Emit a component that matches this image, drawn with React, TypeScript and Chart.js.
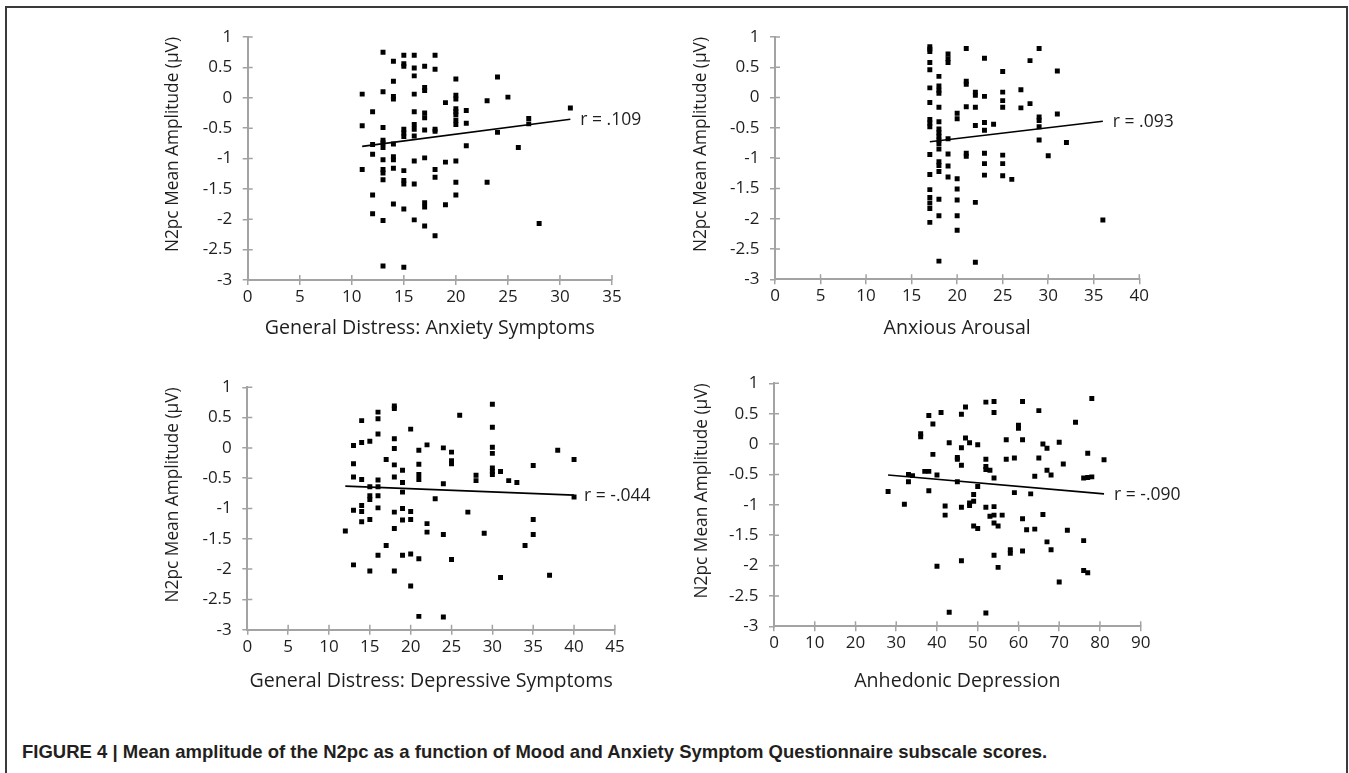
import React, { useEffect, useRef } from "react";
import { Chart, registerables } from "chart.js";

Chart.register(...registerables);

const FONT_FAMILY = "'Open Sans', 'DejaVu Sans', sans-serif";
const AXIS_COLOR = "#a3a3a3";
const TEXT_COLOR = "#1e1e1e";

// ---------------- shared axis ticks ----------------
const yTicks = [1, 0.5, 0, -0.5, -1, -1.5, -2, -2.5, -3];
const xTicksAnxSym = [0, 5, 10, 15, 20, 25, 30, 35];
const xTicksArousal = [0, 5, 10, 15, 20, 25, 30, 35, 40];
const xTicksDepSym = [0, 5, 10, 15, 20, 25, 30, 35, 40, 45];
const xTicksAnhedonic = [0, 10, 20, 30, 40, 50, 60, 70, 80, 90];

const yTitle = "N2pc Mean Amplitude (\u00b5V)";
const xTitles = [
  "General Distress: Anxiety Symptoms",
  "Anxious Arousal",
  "General Distress: Depressive Symptoms",
  "Anhedonic Depression",
];
const rLabels = ["r = .109", "r = .093", "r = -.044", "r = -.090"];

// ---------------- panel 1: General Distress: Anxiety Symptoms ----------------
const anxSymX = [
  11, 11, 11,
  12, 12, 12, 12, 12,
  13, 13, 13, 13, 13, 13, 13, 13, 13, 13, 13, 13,
  14, 14, 14, 14, 14, 14, 14, 14, 14,
  15, 15, 15, 15, 15, 15, 15, 15, 15, 15, 15,
  16, 16, 16, 16, 16, 16, 16, 16, 16, 16, 16,
  17, 17, 17, 17, 17, 17, 17, 17, 17, 17,
  18, 18, 18, 18, 18, 18, 18,
  19, 19, 19,
  20, 20, 20, 20, 20, 20, 20, 20, 20, 20, 20,
  21, 21, 21,
  23, 23, 24, 24, 25, 26, 27, 27, 28, 31,
];
const anxSymY = [
  0.06, -0.46, -1.18,
  -0.23, -0.77, -0.93, -1.6, -1.91,
  0.75, 0.1, -0.49, -0.7, -0.74, -0.82, -1.02, -1.18, -1.24, -1.35, -2.02, -2.77,
  0.6, 0.27, 0.02, -0.02, -0.76, -0.97, -1.02, -1.16, -1.75,
  0.7, 0.56, 0.52, -0.52, -0.58, -0.64, -1.2, -1.36, -1.42, -1.83, -2.79,
  0.7, 0.49, 0.36, 0.06, -0.23, -0.44, -0.52, -0.63, -1.04, -1.42, -2.01,
  0.52, 0.17, 0.12, -0.25, -0.33, -0.53, -0.99, -1.73, -1.8, -2.11,
  0.7, 0.47, -0.52, -0.55, -1.18, -1.31, -2.27,
  -0.08, -1.06, -1.76,
  0.31, 0.04, -0.02, -0.18, -0.23, -0.28, -0.37, -0.44, -1.04, -1.39, -1.6,
  -0.21, -0.42, -0.79,
  -0.05, -1.39, 0.34, -0.57, 0.01, -0.82, -0.34, -0.43, -2.07, -0.17,
];
const anxSymTrendX = [11, 31];
const anxSymTrendY = [-0.8, -0.355];

// ---------------- panel 2: Anxious Arousal ----------------
const arousalX = [
  17, 17, 17, 17, 17, 17, 17, 17, 17, 17, 17, 17, 17, 17, 17, 17, 17,
  18, 18, 18, 18, 18, 18, 18, 18, 18, 18, 18, 18, 18, 18, 18, 18, 18, 18,
  19, 19, 19, 19, 19, 19, 19,
  20, 20, 20, 20, 20, 20, 20,
  21, 21, 21, 21, 21, 21,
  22, 22, 22, 22, 22, 22,
  23, 23, 23, 23, 23, 23, 23,
  24,
  25, 25, 25, 25, 25, 25, 25,
  26, 27, 27, 28, 28,
  29, 29, 29, 29, 29,
  30, 31, 31, 32, 36,
];
const arousalY = [
  0.84, 0.8, 0.76, 0.58, 0.46, 0.16, -0.08, -0.36, -0.42, -0.48, -0.94, -1.27, -1.52, -1.65, -1.74, -1.83, -2.06,
  0.35, 0.19, 0.12, 0.07, -0.16, -0.4, -0.52, -0.58, -0.64, -0.7, -0.76, -0.85, -1.06, -1.12, -1.22, -1.68, -1.95, -2.7,
  0.72, 0.64, 0.58, -0.68, -0.93, -1.13, -1.31,
  -0.26, -0.35, -1.34, -1.51, -1.69, -1.95, -2.19,
  0.81, 0.27, 0.22, -0.15, -0.92, -0.97,
  0.09, 0.04, -0.16, -0.46, -1.73, -2.72,
  0.65, 0.02, -0.41, -0.54, -0.92, -1.09, -1.28,
  -0.44,
  0.43, 0.09, -0.05, -0.16, -0.95, -1.09, -1.29,
  -1.35, 0.13, -0.17, 0.61, -0.1,
  0.81, -0.32, -0.38, -0.48, -0.7,
  -0.96, 0.44, -0.27, -0.74, -2.02,
];
const arousalTrendX = [17, 36];
const arousalTrendY = [-0.73, -0.39];

// ---------------- panel 3: General Distress: Depressive Symptoms ----------------
const depSymX = [
  12,
  13, 13, 13, 13, 13,
  14, 14, 14, 14, 14, 14,
  15, 15, 15, 15, 15, 15,
  16, 16, 16, 16, 16, 16, 16, 16,
  17, 17,
  18, 18, 18, 18, 18, 18, 18, 18, 18,
  19, 19, 19, 19, 19, 19,
  20, 20, 20, 20, 20,
  21, 21, 21, 21, 21, 21,
  22, 22, 22,
  23,
  24, 24, 24, 24,
  25, 25, 25, 25,
  26, 27, 28, 28, 29,
  30, 30, 30, 30, 30, 30, 30,
  31, 31, 32, 33, 34,
  35, 35, 35,
  37, 38, 40, 40,
];
const depSymY = [
  -1.37,
  0.04, -0.26, -0.48, -1.03, -1.93,
  0.45, 0.09, -0.52, -0.95, -1.05, -1.22,
  0.11, -0.64, -0.79, -0.85, -1.18, -2.03,
  0.59, 0.48, 0.23, -0.53, -0.64, -0.79, -0.99, -1.77,
  -0.19, -1.61,
  0.69, 0.65, 0.15, -0.01, -0.28, -0.48, -1.06, -1.33, -2.03,
  -0.37, -0.57, -0.73, -1.0, -1.19, -1.77,
  0.31, -1.05, -1.18, -1.75, -2.28,
  -0.04, -0.27, -0.44, -0.52, -1.83, -2.78,
  0.05, -1.25, -1.39,
  -0.84,
  0.0, -0.59, -1.43, -2.79,
  -0.07, -0.21, -0.26, -1.84,
  0.54, -1.06, -0.45, -0.54, -1.41,
  0.72, 0.34, 0.01, -0.09, -0.33, -0.39, -0.44,
  -0.39, -2.14, -0.54, -0.57, -1.61,
  -0.29, -1.18, -1.43,
  -2.1, -0.04, -0.19, -0.81,
];
const depSymTrendX = [12, 40];
const depSymTrendY = [-0.63, -0.78];

// ---------------- panel 4: Anhedonic Depression ----------------
const anhedonicX = [
  28, 32, 33, 33, 34, 36, 36, 37, 38, 38, 38, 39, 39, 40, 40, 41, 42, 42, 43, 43,
  45, 45, 45, 46, 46, 46, 46, 46, 47, 47, 48, 48, 48, 49, 49, 49, 50, 50, 50,
  52, 52, 52, 52, 52, 52, 53, 53, 54, 54, 54, 54, 54, 54, 54, 55, 55, 56, 57, 57,
  58, 58, 59, 59, 60, 60, 61, 61, 61, 61, 62, 63, 64, 64, 65, 65, 66, 66, 67, 67, 67,
  68, 68, 70, 70, 71, 72, 74, 76, 76, 76, 77, 77, 77, 78, 78, 81,
];
const anhedonicY = [
  -0.78, -0.99, -0.5, -0.62, -0.52, 0.17, 0.12, -0.45, -0.45, 0.47, -0.77, 0.33, -0.17, -0.51, -2.01, 0.52, -1.02, -1.17, 0.02, -2.77,
  -0.22, -0.25, -0.62, 0.49, -0.06, -0.35, -1.04, -1.92, 0.61, 0.1, 0.02, -0.97, -1.01, -0.83, -0.94, -1.35, -0.01, -0.7, -1.39,
  0.69, -0.25, -0.37, -0.42, -1.04, -2.78, -0.43, -1.19, 0.7, 0.52, -0.56, -1.03, -1.17, -1.3, -1.83, -1.35, -2.03, -1.17, 0.07, -0.25,
  -1.74, -1.8, -0.23, -0.8, 0.31, 0.26, 0.7, 0.07, -1.23, -1.76, -1.41, -0.82, -0.53, -1.4, 0.55, -0.23, 0.0, -1.16, -0.07, -0.43, -1.61,
  -0.51, -1.74, 0.03, -2.27, -0.33, -1.42, 0.36, -0.56, -1.59, -2.08, -0.55, -2.12, -0.15, -0.54, 0.75, -0.26,
];
const anhedonicTrendX = [28, 81];
const anhedonicTrendY = [-0.51, -0.82];

// ---------------- layout (page pixel positions) ----------------
type PanelDef = {
  key: string;
  box: { left: number; top: number; width: number; height: number };
  area: { left: number; top: number; right: number; bottom: number };
  yTitleCx: number;
  xTitleCy: number;
  xTicks: number[];
  xs: number[];
  ys: number[];
  tx: number[];
  ty: number[];
  xTitle: string;
  rLabel: string;
};

const panels: PanelDef[] = [
  {
    key: "p1",
    box: { left: 140, top: 10, width: 530, height: 345 },
    area: { left: 247.7, top: 37, right: 612, bottom: 280 },
    yTitleCx: 173,
    xTitleCy: 328,
    xTicks: xTicksAnxSym,
    xs: anxSymX,
    ys: anxSymY,
    tx: anxSymTrendX,
    ty: anxSymTrendY,
    xTitle: xTitles[0],
    rLabel: rLabels[0],
  },
  {
    key: "p2",
    box: { left: 665, top: 10, width: 530, height: 345 },
    area: { left: 775, top: 37, right: 1139.3, bottom: 279.3 },
    yTitleCx: 701,
    xTitleCy: 328,
    xTicks: xTicksArousal,
    xs: arousalX,
    ys: arousalY,
    tx: arousalTrendX,
    ty: arousalTrendY,
    xTitle: xTitles[1],
    rLabel: rLabels[1],
  },
  {
    key: "p3",
    box: { left: 140, top: 360, width: 530, height: 350 },
    area: { left: 247.3, top: 387.3, right: 614.9, bottom: 629.7 },
    yTitleCx: 173,
    xTitleCy: 681,
    xTicks: xTicksDepSym,
    xs: depSymX,
    ys: depSymY,
    tx: depSymTrendX,
    ty: depSymTrendY,
    xTitle: xTitles[2],
    rLabel: rLabels[2],
  },
  {
    key: "p4",
    box: { left: 665, top: 356, width: 530, height: 354 },
    area: { left: 774, top: 383.3, right: 1140.7, bottom: 626.3 },
    yTitleCx: 702,
    xTitleCy: 681,
    xTicks: xTicksAnhedonic,
    xs: anhedonicX,
    ys: anhedonicY,
    tx: anhedonicTrendX,
    ty: anhedonicTrendY,
    xTitle: xTitles[3],
    rLabel: rLabels[3],
  },
];

const TICK_FONT = 17;
const YTITLE_FONT = 17.3;
const XTITLE_FONT = 19.6;

function Panel({ def }: { def: PanelDef }) {
  const ref = useRef<HTMLCanvasElement | null>(null);

  useEffect(() => {
    const { box, area } = def;
    const yW = area.left - box.left;
    const xH = box.top + box.height - area.bottom;
    const padTop = area.top - box.top;
    const padRight = box.left + box.width - area.right;
    const yLh = YTITLE_FONT * 1.2;
    const xLh = XTITLE_FONT * 1.2;

    const innerTicks = {
      id: "innerTicks",
      beforeDatasetsDraw(chart: any) {
        const { ctx, chartArea, scales } = chart;
        ctx.save();
        ctx.strokeStyle = AXIS_COLOR;
        ctx.lineWidth = 1.5;
        ctx.beginPath();
        scales.x.ticks.forEach((t: any) => {
          const p = scales.x.getPixelForValue(t.value);
          ctx.moveTo(p, chartArea.bottom);
          ctx.lineTo(p, chartArea.bottom - 5);
        });
        scales.y.ticks.forEach((t: any) => {
          const p = scales.y.getPixelForValue(t.value);
          ctx.moveTo(chartArea.left, p);
          ctx.lineTo(chartArea.left + 5, p);
        });
        ctx.stroke();
        ctx.restore();
      },
    };

    const rLabel = {
      id: "rLabel",
      afterDatasetsDraw(chart: any) {
        const meta = chart.getDatasetMeta(1);
        const end = meta.data[meta.data.length - 1];
        if (!end) return;
        const { ctx } = chart;
        ctx.save();
        ctx.font = `${TICK_FONT + 0.5}px ${FONT_FAMILY}`;
        ctx.fillStyle = TEXT_COLOR;
        ctx.textBaseline = "middle";
        ctx.textAlign = "left";
        ctx.fillText(def.rLabel, end.x + 10, end.y + 1);
        ctx.restore();
      },
    };

    const chart = new Chart(ref.current as HTMLCanvasElement, {
      type: "scatter",
      data: {
        datasets: [
          {
            data: def.xs.map((x, i) => ({ x, y: def.ys[i] })),
            pointStyle: "rect",
            pointRadius: 3.5,
            backgroundColor: "#000",
            borderColor: "#000",
            borderWidth: 0,
          },
          {
            data: def.tx.map((x, i) => ({ x, y: def.ty[i] })),
            showLine: true,
            pointRadius: 0,
            borderColor: "#000",
            borderWidth: 1.6,
            fill: false,
          },
        ],
      },
      options: {
        animation: false,
        responsive: false,
        maintainAspectRatio: false,
        events: [],
        layout: {
          autoPadding: false,
          padding: { left: 0, top: padTop, right: padRight, bottom: 0 },
        },
        plugins: {
          legend: { display: false },
          tooltip: { enabled: false },
        },
        scales: {
          x: {
            type: "linear",
            min: def.xTicks[0],
            max: def.xTicks[def.xTicks.length - 1],
            afterBuildTicks: (s: any) => {
              s.ticks = def.xTicks.map((v) => ({ value: v }));
            },
            afterFit: (s: any) => {
              s.height = xH;
            },
            ticks: {
              autoSkip: false,
              maxRotation: 0,
              padding: 2,
              color: TEXT_COLOR,
              font: { family: FONT_FAMILY, size: TICK_FONT },
              callback: (v: any) => String(v),
            },
            grid: {
              display: true,
              drawOnChartArea: false,
              drawTicks: true,
              tickLength: 5,
              color: AXIS_COLOR,
              lineWidth: 1.5,
            },
            border: { display: true, color: AXIS_COLOR, width: 2 },
            title: {
              display: true,
              text: def.xTitle,
              color: TEXT_COLOR,
              font: { family: FONT_FAMILY, size: XTITLE_FONT },
              padding: { top: 0, bottom: box.top + box.height - def.xTitleCy - xLh / 2 },
            },
          },
          y: {
            type: "linear",
            min: -3,
            max: 1,
            afterBuildTicks: (s: any) => {
              s.ticks = yTicks.map((v) => ({ value: v }));
            },
            afterFit: (s: any) => {
              s.width = yW;
            },
            ticks: {
              autoSkip: false,
              padding: 10.5,
              color: TEXT_COLOR,
              font: { family: FONT_FAMILY, size: TICK_FONT },
              callback: (v: any) => String(v),
            },
            grid: {
              display: true,
              drawOnChartArea: false,
              drawTicks: true,
              tickLength: 5,
              color: AXIS_COLOR,
              lineWidth: 1.5,
            },
            border: { display: true, color: AXIS_COLOR, width: 2 },
            title: {
              display: true,
              text: yTitle,
              align: "end",
              color: TEXT_COLOR,
              font: { family: FONT_FAMILY, size: YTITLE_FONT },
              padding: { top: def.yTitleCx - box.left - yLh / 2, bottom: 0 },
            },
          },
        },
      } as any,
      plugins: [innerTicks, rLabel],
    });
    return () => chart.destroy();
  }, [def]);

  const { box } = def;
  return (
    <div style={{ position: "absolute", left: box.left, top: box.top, width: box.width, height: box.height }}>
      <canvas
        ref={ref}
        width={box.width}
        height={box.height}
        style={{ width: box.width, height: box.height, display: "block" }}
      />
    </div>
  );
}

export default function App() {
  return (
    <div
      style={{
        position: "absolute",
        left: 0,
        top: 0,
        width: 1349,
        height: 773,
        overflow: "hidden",
        background: "#fff",
      }}
    >
      <div
        style={{
          position: "absolute",
          left: 5,
          top: 6,
          width: 1343,
          height: 820,
          border: "2px solid #3a3a3a",
          boxSizing: "border-box",
        }}
      />
      {panels.map((p) => (
        <Panel key={p.key} def={p} />
      ))}
      <div
        style={{
          position: "absolute",
          left: 22,
          top: 741,
          lineHeight: "22px",
          whiteSpace: "nowrap",
          fontFamily: "'Liberation Sans', Arial, sans-serif",
          fontWeight: "bold",
          fontSize: 18.5,
          color: "#231f20",
        }}
      >
        FIGURE 4 | Mean amplitude of the N2pc as a function of Mood and Anxiety Symptom Questionnaire subscale scores.
      </div>
    </div>
  );
}
